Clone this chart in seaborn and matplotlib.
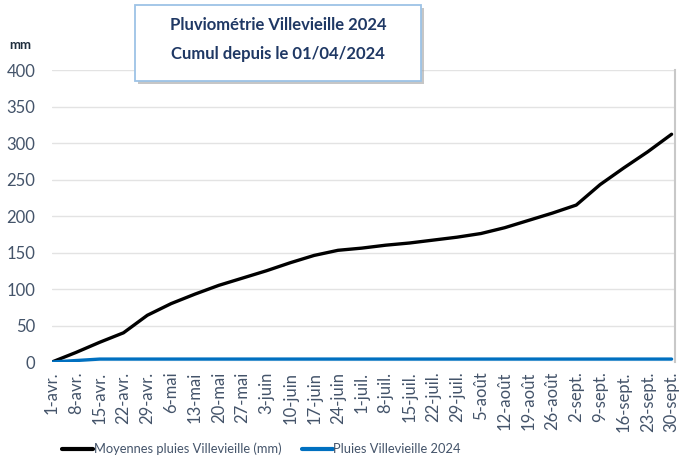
import pandas as pd
import matplotlib
matplotlib.use('Agg')
import matplotlib.pyplot as plt
import matplotlib.patheffects as pe
from matplotlib.patches import Rectangle
from matplotlib.lines import Line2D
import seaborn as sns

# Days since 01/04/2024, one point per week
days = [0, 7, 14, 21, 28, 35, 42, 49, 56, 63, 70, 77, 84, 91, 98,
        105, 112, 119, 126, 133, 140, 147, 154, 161, 168, 175, 182]
moyennes = [0, 13, 27, 40, 64, 80, 93, 105, 115, 125, 136, 146, 153, 156, 160,
            163, 167, 171, 176, 184, 194, 204, 215, 243, 266, 288, 312]
pluies_2024 = [0, 2, 4, 4, 4, 4, 4, 4, 4, 4, 4, 4, 4, 4, 4,
               4, 4, 4, 4, 4, 4, 4, 4, 4, 4, 4, 4]
tick_labels = ['1-avr.', '8-avr.', '15-avr.', '22-avr.', '29-avr.', '6-mai', '13-mai',
               '20-mai', '27-mai', '3-juin', '10-juin', '17-juin', '24-juin', '1-juil.',
               '8-juil.', '15-juil.', '22-juil.', '29-juil.', '5-août', '12-août',
               '19-août', '26-août', '2-sept.', '9-sept.', '16-sept.', '23-sept.', '30-sept.']
serie_moy = 'Moyennes pluies Villevieille (mm)'
serie_2024 = 'Pluies Villevieille 2024'

df = pd.DataFrame({
    'jour': days * 2,
    'mm': moyennes + pluies_2024,
    'serie': [serie_moy] * len(days) + [serie_2024] * len(days),
})

sns.set_style('white')
plt.rcParams['font.family'] = ['Lato', 'DejaVu Sans']

label_col = '#44546a'
fig = plt.figure(figsize=(6.79, 4.61), dpi=100)
ax = fig.add_axes([52 / 679, 1 - 362 / 461, 623 / 679, 292 / 461])

palette = {serie_moy: 'black', serie_2024: '#0070c0'}
sns.lineplot(data=df, x='jour', y='mm', hue='serie', palette=palette,
             linewidth=2.4, ax=ax, legend=False, zorder=3)

ax.set_xlim(0, 183)
ax.set_ylim(0, 400)
ax.set_yticks(range(0, 401, 50))
ax.set_xticks(days)
ax.set_xticklabels(tick_labels, rotation=90, fontsize=12, color=label_col)
ax.tick_params(axis='y', labelsize=12, labelcolor=label_col, length=0, pad=12)
ax.tick_params(axis='x', length=0, pad=7)
ax.grid(axis='y', color='#e3e3e3', linewidth=1)
ax.set_xlabel('')
ax.set_ylabel('')
for s in ['top', 'left', 'bottom']:
    ax.spines[s].set_visible(False)
ax.spines['right'].set_color('#c8c8c8')
ax.spines['right'].set_linewidth(1.5)

fig.text(20 / 679, 1 - 45 / 461, 'mm', fontsize=9.5, fontweight='bold',
         color='#1f2d3d', ha='center', va='center')

# title box
box = Rectangle((135 / 679, 1 - 81 / 461), 286 / 679, 76 / 461, transform=fig.transFigure,
                facecolor='white', edgecolor='#9dc3e6', linewidth=1.3, zorder=5)
box.set_path_effects([pe.SimplePatchShadow(offset=(2, -2), shadow_rgbFace='#a0a0a0', alpha=0.6),
                      pe.Normal()])
fig.add_artist(box)
fig.text(278 / 679, 1 - 25 / 461, 'Pluviométrie Villevieille 2024', fontsize=12,
         fontweight='bold', color='#1f3864', ha='center', va='center', zorder=6)
fig.text(278 / 679, 1 - 54 / 461, 'Cumul depuis le 01/04/2024', fontsize=12,
         fontweight='bold', color='#1f3864', ha='center', va='center', zorder=6)

handles = [Line2D([], [], color='black', lw=3), Line2D([], [], color='#0070c0', lw=3)]
leg = fig.legend(handles, [serie_moy, serie_2024], loc='center', ncol=2,
                 bbox_to_anchor=(0.385, 1 - 449 / 461), frameon=False, fontsize=9.3,
                 handlelength=2.4, handletextpad=0.05, columnspacing=1.6)
for t in leg.get_texts():
    t.set_color(label_col)

fig.savefig('out.png', dpi=100, facecolor='white')
plt.close(fig)
